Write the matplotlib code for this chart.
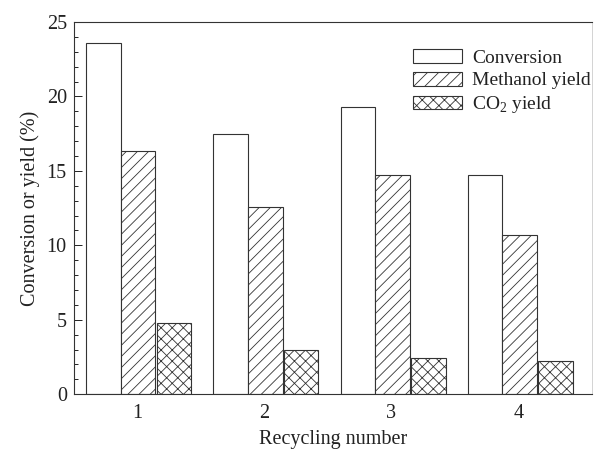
import matplotlib
matplotlib.use("Agg")
import matplotlib.pyplot as plt
import numpy as np
from matplotlib.ticker import MultipleLocator

cycles = [1, 2, 3, 4]
conversion = [23.6, 17.5, 19.3, 14.7]
methanol_yield = [16.35, 12.6, 14.7, 10.7]
co2_yield = [4.75, 3.0, 2.4, 2.2]
labels = ["Conversion", "Methanol yield", "CO$_2$ yield"]

plt.rcParams['font.family'] = ['Liberation Serif', 'DejaVu Serif']
plt.rcParams['hatch.linewidth'] = 0.6
plt.rcParams['hatch.color'] = '#333333'
plt.rcParams['mathtext.fontset'] = 'custom'
plt.rcParams['mathtext.rm'] = 'Liberation Serif'

fig = plt.figure(figsize=(5.95, 4.5), dpi=100)
ax = fig.add_axes([0.124, 0.124, 0.871, 0.827])

x = np.array(cycles, dtype=float)
w = 0.272
ec = '#333333'
ax.bar(x - w + 0.01, conversion, w, facecolor='white', edgecolor=ec, linewidth=0.8, label=labels[0])
ax.bar(x + 0.01, methanol_yield, w, facecolor='white', edgecolor=ec, linewidth=0.8, hatch='///', label=labels[1])
ax.bar(x + w + 0.02, co2_yield, w, facecolor='white', edgecolor=ec, linewidth=0.8, hatch='xxx', label=labels[2])

ax.set_xlim(0.504, 4.58)
ax.set_ylim(0, 25)
ax.set_xticks(cycles)
ax.set_xticklabels([str(c) for c in cycles])
ax.yaxis.set_major_locator(MultipleLocator(5))
ax.yaxis.set_minor_locator(MultipleLocator(1))
ax.tick_params(axis='y', which='major', direction='in', length=6, width=0.7, labelsize=14.5, pad=5, colors='#222222')
ax.tick_params(axis='y', which='minor', direction='in', length=3, width=0.6)
ax.tick_params(axis='x', length=0, labelsize=14.5, pad=7, colors='#222222')

for s in ['left', 'bottom', 'top']:
    ax.spines[s].set_linewidth(0.8)
    ax.spines[s].set_color('#333333')
ax.spines['right'].set_linewidth(0.6)
ax.spines['right'].set_color('#cccccc')

ax.set_xlabel("Recycling number", fontsize=14.5, color='#222222', labelpad=5)
ax.set_ylabel("Conversion or yield (%)", fontsize=14.5, color='#222222', labelpad=5)

leg = ax.legend(loc='upper right', bbox_to_anchor=(1.013, 0.948), frameon=False, fontsize=14,
                handlelength=2.5, handleheight=0.72, handletextpad=0.55, labelspacing=0.25,
                borderaxespad=0.2, borderpad=0.2)
for t in leg.get_texts():
    t.set_color('#222222')

fig.savefig("out.png", dpi=100)
